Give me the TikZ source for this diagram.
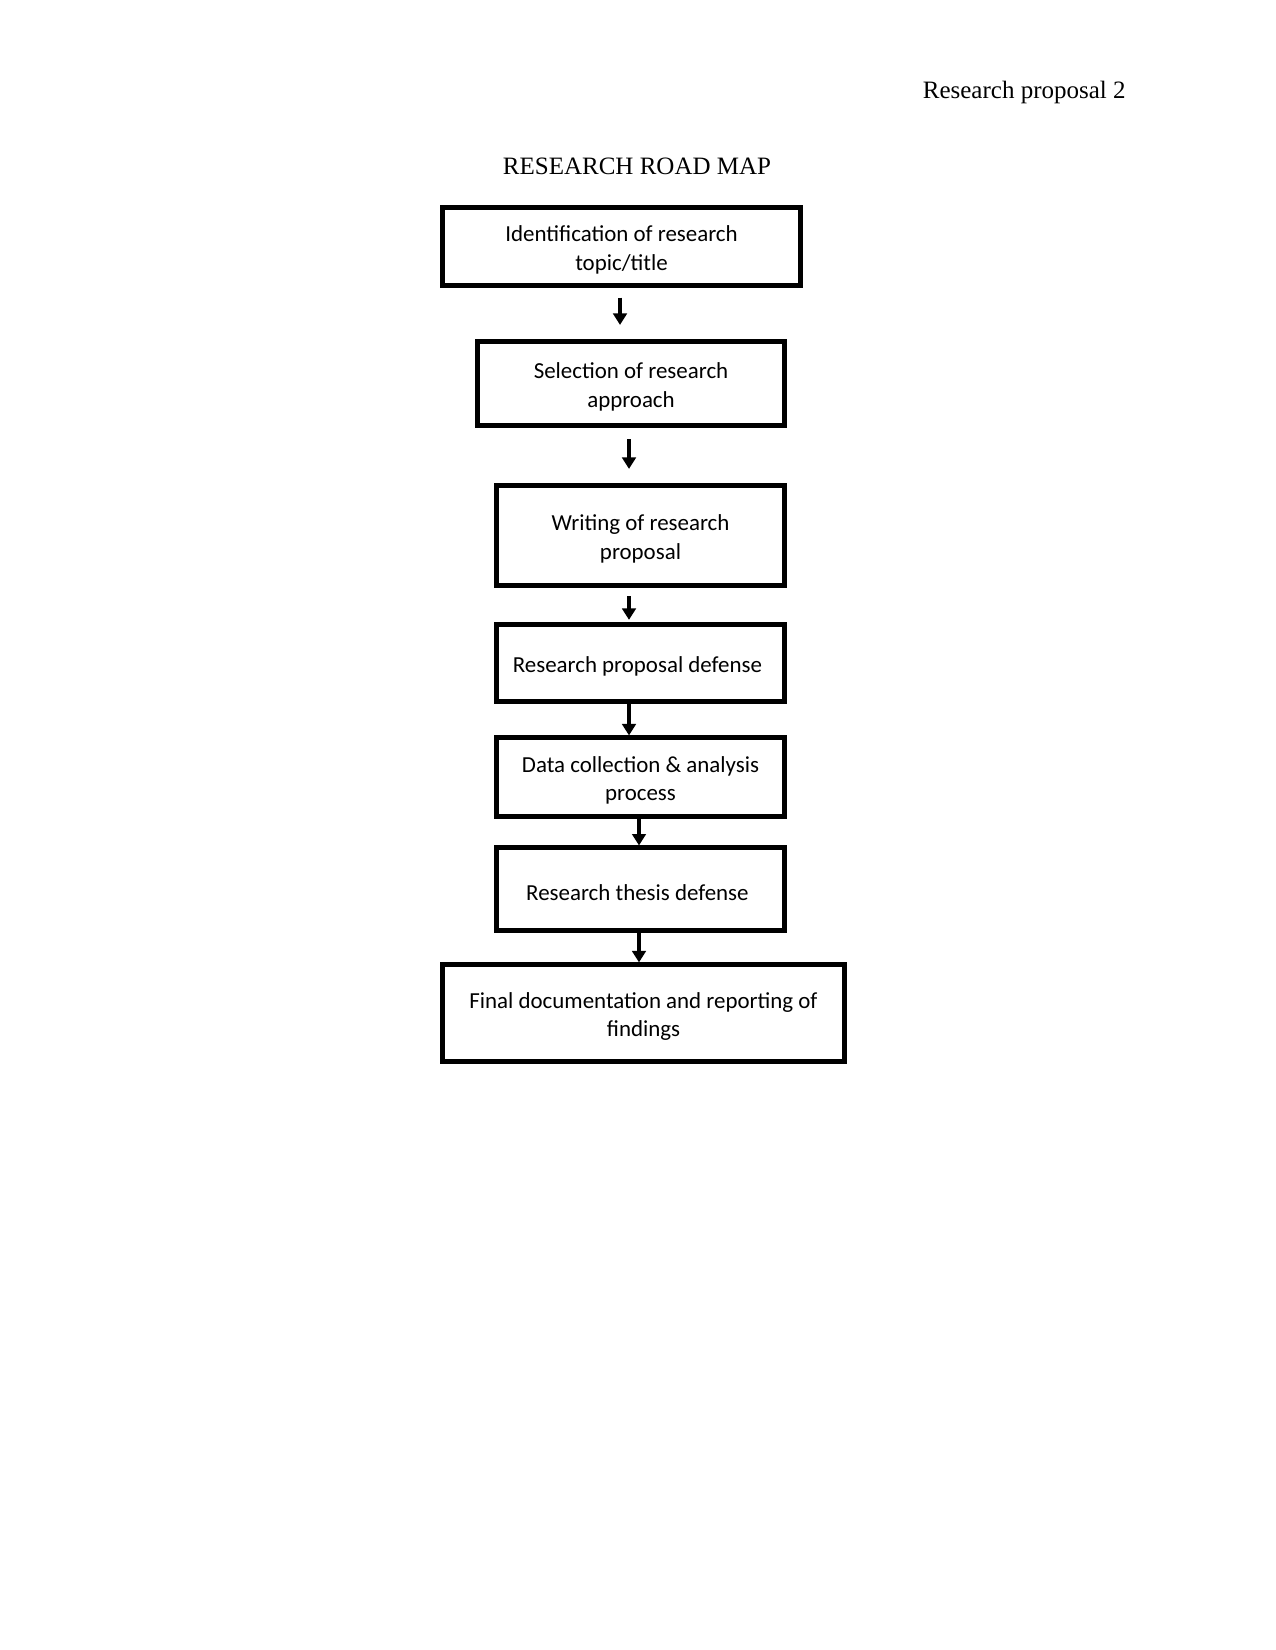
\documentclass[tikz,border=0pt]{standalone}
\usepackage{fontspec}
\setmainfont{Liberation Serif}
\newfontfamily\boxfont{Carlito}
\usetikzlibrary{arrows.meta,calc}
\newcommand{\lowerstrut}{\rule{0pt}{11pt}}
\begin{document}
\begin{tikzpicture}[x=0.48pt,y=-0.48pt,
  stagebox/.style={draw,line width=2pt,align=center,inner sep=0pt,
    font=\boxfont\fontsize{11}{13.6}\selectfont},
  flowarrow/.style={line width=2pt,-{Triangle[length=5.5pt,width=6.5pt]}},
  serifbig/.style={font=\fontsize{12}{14}\selectfont}]
\useasboundingbox[fill=white] (0,0) rectangle (1275,1650);
\node[serifbig,anchor=base east,inner sep=0pt] (hdr) at (1126,99) {Research proposal 2};
\node[serifbig,anchor=base,inner sep=0pt] (title) at (637,175) {RESEARCH ROAD MAP};

\node[stagebox,minimum width=171.8pt,minimum height=37.4pt] (b1) at (621.5,246.5) {\lowerstrut Identification of research\\topic/title};
\node[stagebox,minimum width=147.4pt,minimum height=40.3pt] (b2) at (631,383.5) {\lowerstrut Selection of research\\approach};
\node[stagebox,minimum width=138.2pt,minimum height=48pt] (b3) at (640.5,535.5) {\lowerstrut Writing of research\\proposal};
\node[stagebox,minimum width=138.2pt,minimum height=37pt] (b4) at (640.5,663) {\lowerstrut Research proposal defense\hspace*{3pt}};
\node[stagebox,minimum width=138.2pt,minimum height=37.9pt] (b5) at (640.5,777) {\lowerstrut Data collection \& analysis\\process};
\node[stagebox,minimum width=138.2pt,minimum height=39.8pt] (b6) at (640.5,889) {\lowerstrut Research thesis defense\hspace*{3pt}};
\node[stagebox,minimum width=193pt,minimum height=46.6pt] (b7) at (643.5,1013) {\lowerstrut Final documentation and reporting of\\findings};

\draw[flowarrow] ($(b1.south)+(-1.5,10)$) -- ($(b2.north)+(-11,-14.5)$);
\draw[flowarrow] ($(b2.south)+(-2,11.5)$) -- ($(b3.north)+(-11.5,-14.5)$);
\draw[flowarrow] ($(b3.south)+(-11.5,8.5)$) -- ($(b4.north)+(-11.5,-2.5)$);
\draw[flowarrow] ($(b4.south)+(-11.5,0)$) -- ($(b5.north)+(-11.5,0)$);
\draw[flowarrow] ($(b5.south)+(-1.5,0)$) -- ($(b6.north)+(-1.5,0)$);
\draw[flowarrow] ($(b6.south)+(-1.5,0)$) -- ($(b7.north)+(-4.5,0)$);
\end{tikzpicture}
\end{document}
